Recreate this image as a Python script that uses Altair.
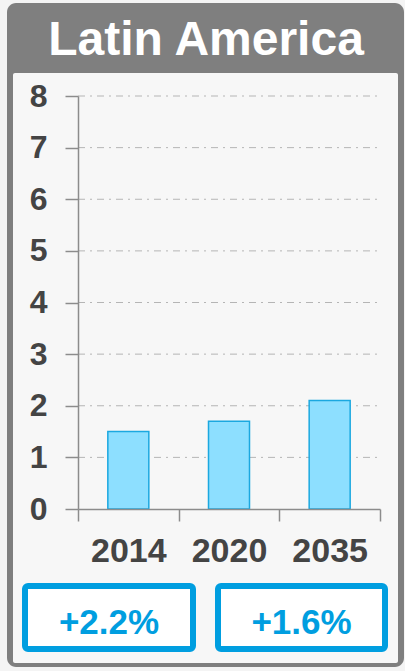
import altair as alt
import pandas as pd

title_text = "Latin America"
years = ["2014", "2020", "2035"]
values = [1.5, 1.7, 2.1]
growth_labels = ["+2.2%", "+1.6%"]
y_ticks = [0, 1, 2, 3, 4, 5, 6, 7, 8]
grid_values = [1, 2, 3, 4, 5, 6, 7, 8]

bars_df = pd.DataFrame({"year": years, "value": values})
grid_df = pd.DataFrame({"value": grid_values})
one = pd.DataFrame({"k": [0]})

FONT = "Liberation Sans"
BLUE = "#009ee0"
yscale = alt.Scale(domain=[0, 8], nice=False)
yaxis = alt.Axis(title=None, values=y_ticks, zindex=1,
                 labelFont=FONT, labelFontWeight="bold", labelFontSize=32,
                 labelColor="#444444", labelPadding=18,
                 tickSize=13, tickColor="#8c8c8c", domainColor="#8c8c8c",
                 tickWidth=1.5, domainWidth=1.5, grid=False)

outer = alt.Chart(one).mark_rect(fill="#7f7f7f", cornerRadius=9).encode(
    x=alt.value(-71), x2=alt.value(326), y=alt.value(-93), y2=alt.value(571)
)
inner = alt.Chart(one).mark_rect(fill="#f7f7f7", cornerRadius=2).encode(
    x=alt.value(-65), x2=alt.value(320), y=alt.value(-23), y2=alt.value(567)
)
title = alt.Chart(one).mark_text(
    text=title_text, font=FONT, fontWeight="bold", fontSize=48, color="white",
    align="center", baseline="alphabetic"
).encode(x=alt.value(128), y=alt.value(-41))

grid = alt.Chart(grid_df).mark_rule(
    color="#b5b5b5", strokeDash=[7, 5, 2, 5], strokeWidth=1
).encode(
    y=alt.Y("value:Q", scale=yscale, axis=yaxis),
    x=alt.value(0), x2=alt.value(303),
)

bars = alt.Chart(bars_df).mark_bar(
    fill="#8ddfff", stroke="#1ba8e0", strokeWidth=1.5, size=41
).encode(
    x=alt.X("year:N", sort=years,
            scale=alt.Scale(paddingInner=0, paddingOuter=0),
            axis=alt.Axis(title=None, labelAngle=0, tickBand="extent", zindex=1,
                          labelFont=FONT, labelFontWeight="bold", labelFontSize=34,
                          labelColor="#444444", labelPadding=13,
                          tickSize=12, tickColor="#8c8c8c", domainColor="#8c8c8c",
                          tickWidth=1.5, domainWidth=1.5, grid=False)),
    y=alt.Y("value:Q", scale=yscale, axis=yaxis),
)

layers = [outer, inner, title, grid, bars]
box_x = [(-53, 115), (140, 307)]
for (x1, x2), lab in zip(box_x, growth_labels):
    layers.append(
        alt.Chart(one).mark_rect(fill="white", stroke=BLUE, strokeWidth=6, cornerRadius=3).encode(
            x=alt.value(x1), x2=alt.value(x2), y=alt.value(490), y2=alt.value(553)
        )
    )
    layers.append(
        alt.Chart(one).mark_text(
            text=lab, font=FONT, fontWeight="bold", fontSize=35, color=BLUE,
            align="center", baseline="alphabetic"
        ).encode(x=alt.value((x1 + x2) / 2), y=alt.value(538))
    )

chart = alt.layer(*layers).properties(
    width=302, height=413,
    autosize=alt.AutoSizeParams(type="none"),
    padding={"left": 78, "top": 96, "right": 25, "bottom": 162},
    background="#f4f4f4",
).configure_view(stroke=None)

chart.save("out.html", embed_options={"renderer": "svg", "actions": False})
